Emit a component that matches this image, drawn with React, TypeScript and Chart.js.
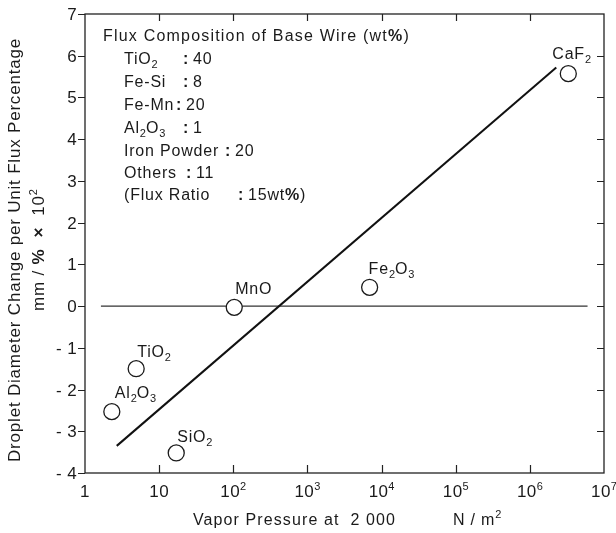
import React, { useEffect, useRef } from "react";
import { Chart, registerables } from "chart.js";

Chart.register(...registerables);

// ---- data ----
const compounds = ["Al_2O_3", "TiO_2", "SiO_2", "MnO", "Fe_2O_3", "CaF_2"];
const vaporPressure = [2.3, 4.9, 17, 103, 6900, 3.3e6];
const dropletChange = [-2.53, -1.5, -3.52, -0.03, 0.45, 5.57];

const fitX = [2.68, 2.27e6];
const fitY = [-3.35, 5.72];

const zeroX = [1.64, 6.0e6];
const zeroY = [0, 0];

const xTicks = [1, 10, 100, 1e3, 1e4, 1e5, 1e6, 1e7];
const xTickLabels = ["1", "10", "10^2", "10^3", "10^4", "10^5", "10^6", "10^7"];
const yTicks = [-4, -3, -2, -1, 0, 1, 2, 3, 4, 5, 6, 7];

const boxTitle = "Flux Composition of Base Wire (wt";
const compNames = ["TiO_2", "Fe-Si", "Fe-Mn", "Al_2O_3", "Iron Powder", "Others"];
const compValues = ["40", "8", "20", "1", "20", "11"];
const fluxRatio = "15";

const xTitle = "Vapor Pressure at  2 000";
const xUnit = "N / m^2";
const yTitle1 = "Droplet Diameter Change per Unit Flux Percentage";

// ---- styles ----
const FONT = '"Liberation Sans", Arial, Helvetica, sans-serif';
const INK = "#1a1a1a";
const SMALL = 11;

type Seg = { t: string; b?: boolean; s?: "sub" | "sup" };
type Style = { size: number; sp: number };
const BASE: Style = { size: 16, sp: 0.8 };

function parse(str: string, bold = false): Seg[] {
  const segs: Seg[] = [];
  let buf = "";
  for (let i = 0; i < str.length; i++) {
    const c = str[i];
    if ((c === "_" || c === "^") && i + 1 < str.length) {
      if (buf) segs.push({ t: buf, b: bold });
      buf = "";
      segs.push({ t: str[i + 1], b: bold, s: c === "_" ? "sub" : "sup" });
      i++;
    } else buf += c;
  }
  if (buf) segs.push({ t: buf, b: bold });
  return segs;
}

function setFont(ctx: CanvasRenderingContext2D, seg: Seg, st: Style) {
  const sz = seg.s ? SMALL : st.size;
  ctx.font = `${seg.b ? "bold " : ""}${sz}px ${FONT}`;
  (ctx as any).letterSpacing = (seg.s ? 0 : st.sp) + "px";
}

function richWidth(ctx: CanvasRenderingContext2D, segs: Seg[], st: Style) {
  let w = 0;
  for (const s of segs) {
    setFont(ctx, s, st);
    w += ctx.measureText(s.t).width;
  }
  return w;
}

function drawRich(
  ctx: CanvasRenderingContext2D,
  segs: Seg[],
  x: number,
  y: number,
  align: "left" | "center" | "right" = "left",
  st: Style = BASE
) {
  const w = richWidth(ctx, segs, st);
  let cx = align === "left" ? x : align === "center" ? x - w / 2 : x - w;
  ctx.textAlign = "left";
  ctx.textBaseline = "alphabetic";
  for (const s of segs) {
    setFont(ctx, s, st);
    const dy = s.s === "sub" ? 4 : s.s === "sup" ? -7 : 0;
    ctx.fillText(s.t, cx, y + dy);
    cx += ctx.measureText(s.t).width;
  }
}

// label placement relative to point (left x offset, baseline offset)
const labelOffsets: [number, number][] = [
  [3, -14],
  [1, -12],
  [1, -11],
  [1, -13],
  [-1, -13],
  [-16, -15],
];
const colonX = [183, 183, 176, 183, 225, 186];

const TICK_ST: Style = { size: 17, sp: 0.4 };
const XTITLE_ST: Style = { size: 16, sp: 1.1 };
const YTITLE_ST: Style = { size: 17, sp: 0.8 };
const BOXTITLE_ST: Style = { size: 16, sp: 1.2 };

const overlay = {
  id: "overlay",
  afterDatasetsDraw(chart: any) {
    const ctx: CanvasRenderingContext2D = chart.ctx;
    const xs = chart.scales.x;
    const ys = chart.scales.y;
    const { left, right, top, bottom } = chart.chartArea;
    ctx.save();
    ctx.fillStyle = INK;
    ctx.strokeStyle = "#222";

    // frame
    ctx.lineWidth = 1.3;
    ctx.strokeRect(left, top, right - left, bottom - top);

    // ticks
    ctx.lineWidth = 1.2;
    ctx.beginPath();
    yTicks.forEach((v) => {
      const py = Math.round(ys.getPixelForValue(v)) + 0.5;
      ctx.moveTo(left - 7, py);
      ctx.lineTo(left, py);
      if (v > yTicks[0] && v < yTicks[yTicks.length - 1]) {
        ctx.moveTo(right, py);
        ctx.lineTo(right - 7, py);
      }
    });
    xTicks.forEach((v, i) => {
      if (i === 0 || i === xTicks.length - 1) return;
      const px = Math.round(xs.getPixelForValue(v)) + 0.5;
      ctx.moveTo(px, bottom);
      ctx.lineTo(px, bottom - 8);
      ctx.moveTo(px, top);
      ctx.lineTo(px, top + 7);
    });
    ctx.stroke();

    // y tick labels
    yTicks.forEach((v) => {
      const py = ys.getPixelForValue(v);
      const txt = v < 0 ? "- " + Math.abs(v) : String(v);
      drawRich(ctx, [{ t: txt }], left - 8, py + 6, "right", TICK_ST);
    });
    // x tick labels
    xTicks.forEach((v, i) => {
      const px = xs.getPixelForValue(v);
      drawRich(ctx, parse(xTickLabels[i]), px, 497, "center", TICK_ST);
    });

    // axis titles
    drawRich(ctx, parse(xTitle), 193, 525, "left", XTITLE_ST);
    drawRich(ctx, parse(xUnit), 453, 525, "left", BASE);

    ctx.save();
    ctx.translate(20, 250);
    ctx.rotate(-Math.PI / 2);
    drawRich(ctx, parse(yTitle1), 0, 0, "center", YTITLE_ST);
    ctx.restore();
    ctx.save();
    ctx.translate(44, 250);
    ctx.rotate(-Math.PI / 2);
    drawRich(
      ctx,
      [{ t: "mm / " }, { t: "%", b: true }, { t: "  " }, { t: "×", b: true }, { t: "  10" }, { t: "2", s: "sup" }],
      0,
      0,
      "center",
      YTITLE_ST
    );
    ctx.restore();

    // point labels
    compounds.forEach((name, i) => {
      const px = xs.getPixelForValue(vaporPressure[i]);
      const py = ys.getPixelForValue(dropletChange[i]);
      const [dx, dy] = labelOffsets[i];
      drawRich(ctx, parse(name), px + dx, py + dy, "left");
    });

    // composition box
    drawRich(ctx, [...parse(boxTitle), { t: "%", b: true }, { t: ")" }], 103, 41, "left", BOXTITLE_ST);
    const lineY = [64, 87, 110, 133, 156, 178];
    compNames.forEach((n, i) => {
      drawRich(ctx, parse(n), 124, lineY[i], "left");
      drawRich(ctx, [{ t: ":", b: true }], colonX[i], lineY[i], "left");
      drawRich(ctx, [{ t: compValues[i] }], colonX[i] + 10, lineY[i], "left");
    });
    drawRich(ctx, [{ t: "(Flux Ratio" }], 124, 200, "left");
    drawRich(ctx, [{ t: ":", b: true }], 238, 200, "left");
    drawRich(ctx, [{ t: fluxRatio + "wt" }, { t: "%", b: true }, { t: ")" }], 248, 200, "left");

    ctx.restore();
  },
};

export default function App() {
  const ref = useRef<HTMLCanvasElement>(null);
  useEffect(() => {
    if (!ref.current) return;
    const chart = new Chart(ref.current, {
      type: "scatter",
      data: {
        datasets: [
          {
            data: vaporPressure.map((x, i) => ({ x, y: dropletChange[i] })),
            pointRadius: 8,
            pointHoverRadius: 8,
            pointBackgroundColor: "#fff",
            pointBorderColor: "#1a1a1a",
            pointBorderWidth: 1.3,
            showLine: false,
            order: 0,
          },
          {
            data: fitX.map((x, i) => ({ x, y: fitY[i] })),
            showLine: true,
            borderColor: "#111",
            borderWidth: 2,
            pointRadius: 0,
            order: 1,
          },
          {
            data: zeroX.map((x, i) => ({ x, y: zeroY[i] })),
            showLine: true,
            borderColor: "#333",
            borderWidth: 1.1,
            pointRadius: 0,
            order: 2,
          },
        ],
      },
      options: {
        animation: false,
        responsive: false,
        devicePixelRatio: 1,
        layout: { padding: { top: 14, right: 12, left: 0, bottom: 0 } },
        plugins: { legend: { display: false }, tooltip: { enabled: false } },
        events: [],
        scales: {
          x: {
            type: "logarithmic",
            min: 1,
            max: 1e7,
            ticks: { display: false },
            grid: { display: false },
            border: { display: false },
            afterBuildTicks: (s: any) => {
              s.ticks = xTicks.map((v) => ({ value: v }));
            },
            afterFit: (s: any) => {
              s.height = 60;
            },
          },
          y: {
            type: "linear",
            min: -4,
            max: 7,
            ticks: { display: false, stepSize: 1 },
            grid: { display: false },
            border: { display: false },
            afterFit: (s: any) => {
              s.width = 85;
            },
          },
        },
      },
      plugins: [overlay],
    });
    return () => chart.destroy();
  }, []);
  return (
    <div style={{ position: "fixed", left: 0, top: 0, width: 616, height: 533, background: "#fff" }}>
      <canvas ref={ref} width={616} height={533} style={{ width: 616, height: 533 }} />
    </div>
  );
}
